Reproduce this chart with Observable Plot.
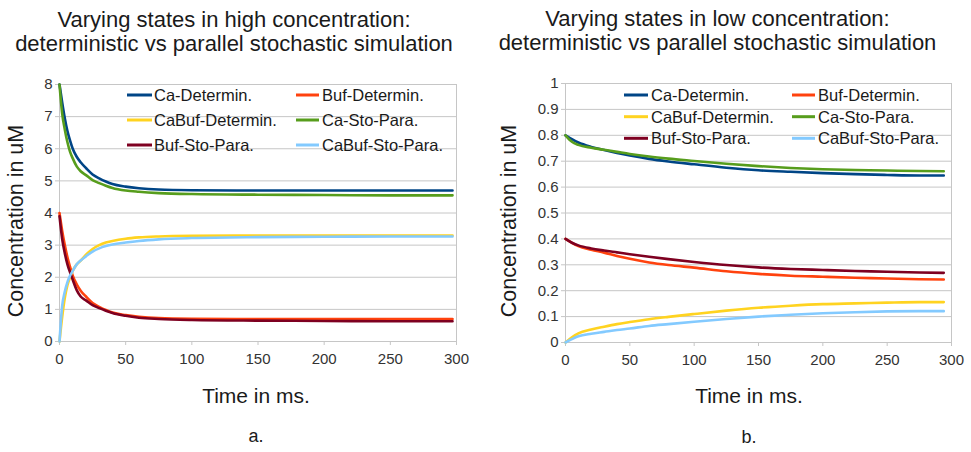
<!DOCTYPE html>
<html><head><meta charset="utf-8">
<script src="https://cdn.jsdelivr.net/npm/d3@7"></script>
<script src="https://cdn.jsdelivr.net/npm/@observablehq/plot@0.6"></script>
<style>
body{margin:0;background:#fff;font-family:"Liberation Sans",Arial,sans-serif;}
#root{position:relative;width:971px;height:452px;overflow:hidden;background:#fff;}
#root svg.plot{position:absolute;}
#overlay{position:absolute;left:0;top:0;pointer-events:none;}
</style></head>
<body><div id="root"></div>
<script>
// ---- Series names / colours ----
const seriesNames = ["Ca-Determin.", "Buf-Determin.", "CaBuf-Determin.", "Ca-Sto-Para.", "Buf-Sto-Para.", "CaBuf-Sto-Para."];
const seriesColors = ["#004586", "#ff420e", "#ffd320", "#579d1c", "#7e0021", "#83caff"];

// ---- Panel a (high concentration) ----
const titleA = ["Varying states in high concentration:", "deterministic vs parallel stochastic simulation"];
const timeA = [0, 2, 4, 6, 8, 10, 13, 16, 20, 25, 30, 35, 40, 50, 60, 75, 100, 150, 200, 250, 297];
const caDetA    = [8.0, 7.45, 6.95, 6.55, 6.25, 6.0, 5.75, 5.58, 5.4, 5.2, 5.08, 4.98, 4.9, 4.82, 4.77, 4.73, 4.71, 4.7, 4.7, 4.7, 4.7];
const bufDetA   = [4.0, 3.45, 3.0, 2.62, 2.32, 2.05, 1.78, 1.58, 1.4, 1.2, 1.08, 0.98, 0.9, 0.82, 0.77, 0.73, 0.71, 0.7, 0.7, 0.7, 0.7];
const caBufDetA = [0.0, 0.75, 1.35, 1.75, 2.0, 2.2, 2.4, 2.52, 2.7, 2.88, 3.0, 3.08, 3.13, 3.2, 3.24, 3.27, 3.29, 3.3, 3.3, 3.3, 3.3];
const caStoA    = [8.0, 7.1, 6.6, 6.2, 5.9, 5.7, 5.45, 5.3, 5.18, 5.02, 4.93, 4.85, 4.78, 4.7, 4.66, 4.62, 4.59, 4.57, 4.56, 4.55, 4.55];
const bufStoA   = [3.9, 3.2, 2.75, 2.4, 2.15, 1.92, 1.6, 1.4, 1.28, 1.13, 1.04, 0.96, 0.89, 0.8, 0.74, 0.7, 0.67, 0.65, 0.64, 0.63, 0.63];
const caBufStoA = [0.0, 1.1, 1.55, 1.85, 2.05, 2.2, 2.4, 2.52, 2.65, 2.8, 2.9, 2.97, 3.02, 3.08, 3.13, 3.18, 3.22, 3.25, 3.26, 3.27, 3.27];
const yTicksA = [0, 1, 2, 3, 4, 5, 6, 7, 8];

// ---- Panel b (low concentration) ----
const titleB = ["Varying states in low concentration:", "deterministic vs parallel stochastic simulation"];
const timeB = [0, 5, 10, 20, 30, 40, 50, 65, 80, 100, 125, 150, 175, 200, 225, 250, 275, 294];
const caDetB    = [0.8, 0.785, 0.772, 0.755, 0.743, 0.732, 0.722, 0.709, 0.699, 0.688, 0.675, 0.665, 0.659, 0.654, 0.65, 0.647, 0.645, 0.645];
const bufDetB   = [0.4, 0.385, 0.372, 0.358, 0.347, 0.334, 0.323, 0.309, 0.299, 0.289, 0.275, 0.265, 0.258, 0.254, 0.25, 0.247, 0.244, 0.243];
const caBufDetB = [0.0, 0.02, 0.035, 0.05, 0.061, 0.071, 0.079, 0.09, 0.099, 0.11, 0.123, 0.134, 0.142, 0.148, 0.151, 0.154, 0.156, 0.156];
const caStoB    = [0.8, 0.775, 0.763, 0.752, 0.744, 0.736, 0.728, 0.718, 0.71, 0.701, 0.69, 0.681, 0.674, 0.669, 0.666, 0.664, 0.662, 0.661];
const bufStoB   = [0.4, 0.385, 0.375, 0.363, 0.355, 0.348, 0.341, 0.331, 0.322, 0.311, 0.299, 0.29, 0.284, 0.28, 0.276, 0.273, 0.27, 0.269];
const caBufStoB = [0.0, 0.013, 0.024, 0.034, 0.041, 0.048, 0.054, 0.064, 0.071, 0.08, 0.091, 0.1, 0.107, 0.113, 0.117, 0.12, 0.121, 0.121];
const yTicksB = [0, 0.1, 0.2, 0.3, 0.4, 0.5, 0.6, 0.7, 0.8, 0.9, 1];

const xTicks = [0, 50, 100, 150, 200, 250, 300];
const yLabel = "Concentration in uM";
const xLabel = "Time in ms.";
const captions = ["a.", "b."];

const gridColor = "#c6c6c6";
const textColor = "#333";
const font = "'Liberation Sans', Arial, sans-serif";

function toRows(time, seriesArrays) {
  const rows = [];
  seriesArrays.forEach((vals, i) => {
    vals.forEach((v, j) => rows.push({series: seriesNames[i], t: time[j], v}));
  });
  return rows;
}

const panels = [
  {time: timeA, series: [caDetA, bufDetA, caBufDetA, caStoA, bufStoA, caBufStoA], yDomain: [0, 8], yTicks: yTicksA,
   left: 0, top: 74, width: 475, height: 300, ml: 59, mr: 19, mt: 10, mb: 33},
  {time: timeB, series: [caDetB, bufDetB, caBufDetB, caStoB, bufStoB, caBufStoB], yDomain: [0, 1], yTicks: yTicksB,
   left: 490, top: 74, width: 481, height: 300, ml: 75, mr: 20, mt: 9, mb: 32}
];

const root = document.getElementById("root");

panels.forEach(p => {
  const rows = toRows(p.time, p.series);
  const chart = Plot.plot({
    width: p.width, height: p.height,
    marginLeft: p.ml, marginRight: p.mr, marginTop: p.mt, marginBottom: p.mb,
    style: {fontFamily: font, fontSize: "15px", color: textColor, background: "transparent", overflow: "visible"},
    x: {domain: [0, 300]},
    y: {domain: p.yDomain},
    color: {domain: seriesNames, range: seriesColors},
    marks: [
      Plot.gridY(p.yTicks, {stroke: gridColor, strokeOpacity: 1, strokeWidth: 1}),
      Plot.frame({stroke: gridColor, strokeWidth: 1}),
      Plot.axisY(p.yTicks, {tickSize: 4, tickPadding: 3, stroke: gridColor, fill: textColor, label: null, fontSize: 15, tickFormat: d => String(d)}),
      Plot.axisX(xTicks, {tickSize: 4, tickPadding: 8, stroke: gridColor, fill: textColor, label: null, fontSize: 15, tickFormat: d => String(d)}),
      Plot.line(rows, {x: "t", y: "v", z: "series", stroke: "series", strokeWidth: 2.6, curve: "monotone-x"})
    ]
  });
  chart.classList.add("plot");
  chart.style.left = p.left + "px";
  chart.style.top = p.top + "px";
  root.appendChild(chart);
});

// ---- Overlay: titles, axis titles, captions, legends ----
const ov = d3.select(root).append("svg").attr("id", "overlay")
  .attr("width", 971).attr("height", 452)
  .style("font-family", font);

const layout = [
  {title: titleA, tx: 234, tb: [26.7, 51], ylx: 23, xlx: 256, xlb: 402.7, capb: 442.3,
   legRows: [95, 120, 145], legCols: [{s0: 127, s1: 152, tx: 154}, {s0: 296, s1: 319, tx: 322}]},
  {title: titleB, tx: 717.5, tb: [25.7, 49.5], ylx: 515.5, xlx: 749, xlb: 403.3, capb: 443,
   legRows: [95, 116.7, 138.3], legCols: [{s0: 624, s1: 648, tx: 651}, {s0: 792, s1: 815, tx: 818}]}
];

layout.forEach((L, k) => {
  L.title.forEach((line, i) => {
    ov.append("text").attr("x", L.tx).attr("y", L.tb[i]).attr("text-anchor", "middle")
      .attr("font-size", 22).attr("fill", "#1a1a1a").text(line);
  });
  ov.append("text").attr("transform", `translate(${L.ylx},221) rotate(-90)`).attr("text-anchor", "middle")
    .attr("font-size", 21.5).attr("fill", "#1a1a1a").text(yLabel);
  ov.append("text").attr("x", L.xlx).attr("y", L.xlb).attr("text-anchor", "middle")
    .attr("font-size", 21).attr("fill", "#1a1a1a").text(xLabel);
  ov.append("text").attr("x", L.xlx).attr("y", L.capb).attr("text-anchor", "middle")
    .attr("font-size", 18).attr("fill", "#1a1a1a").text(captions[k]);
  seriesNames.forEach((name, i) => {
    const r = Math.floor(i / 2), c = i % 2;
    const cy = L.legRows[r], col = L.legCols[c];
    ov.append("line").attr("x1", col.s0).attr("x2", col.s1).attr("y1", cy).attr("y2", cy)
      .attr("stroke", seriesColors[i]).attr("stroke-width", 3);
    ov.append("text").attr("x", col.tx).attr("y", cy + 5.9).attr("font-size", 16.5)
      .attr("fill", "#1a1a1a").text(name);
  });
});
</script>
</body></html>
